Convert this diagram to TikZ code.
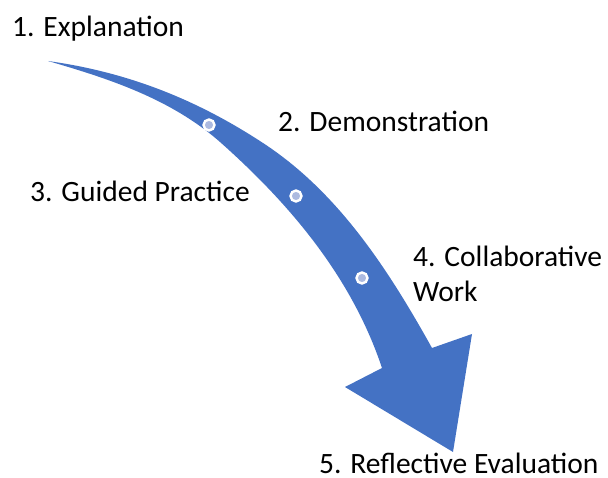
\documentclass[tikz,border=0pt]{standalone}
\usepackage{fontspec}
\setmainfont{Carlito}
\definecolor{flowblue}{RGB}{68,114,196}
\definecolor{dotfill}{RGB}{172,186,224}
\begin{document}
\begin{tikzpicture}[x=1pt,y=-1pt,
  steplabel/.style={inner sep=0pt,font=\fontsize{29.5}{35}\selectfont,text=black},
  stepdot/.style={circle,draw=white,line width=2.4pt,fill=dotfill,minimum size=11pt,inner sep=0pt}]
\useasboundingbox (0,0) rectangle (608,478);

% curved flow arrow: outer edge, head, inner edge back to the pointed tail
\fill[flowblue]
  (48,61) .. controls (127,72) and (196,99) .. (263,143)
          .. controls (338,192) and (388,269) .. (432,348)
  -- (472,334) -- (453,452) -- (345,387) -- (382,368)
          .. controls (352,278) and (291,205) .. (220,142)
          .. controls (171,99) and (110,79) .. (48,61)
  -- cycle;

% step markers on the arrow
\node[stepdot] (d1) at (209,125) {};
\node[stepdot] (d2) at (296,196) {};
\node[stepdot] (d3) at (362,278) {};

% step labels
\node[steplabel,anchor=base west] (s1) at (12,37) {1. Explanation};
\node[steplabel,anchor=base west] (s2) at (278,132) {2. Demonstration};
\node[steplabel,anchor=base west] (s3) at (30,202) {3. Guided Practice};
\node[steplabel,anchor=base west,align=left] (s4) at (413,302) {4. Collaborative\\Work};
\node[steplabel,anchor=base west] (s5) at (319,473) {5. Reflective Evaluation};
\end{tikzpicture}
\end{document}
